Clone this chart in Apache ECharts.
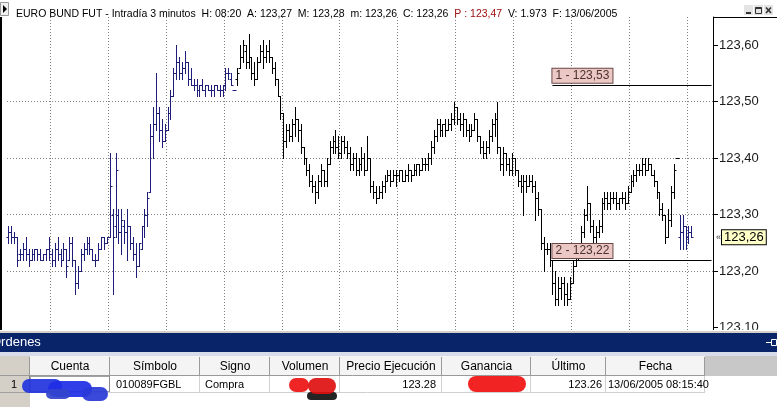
<!DOCTYPE html>
<html><head><meta charset="utf-8">
<script src="https://cdn.jsdelivr.net/npm/echarts@6/dist/echarts.min.js"></script>
<style>html,body{margin:0;padding:0;background:#fff}#c{width:777px;height:407px}</style>
</head><body><div id="c"></div>
<script>
const openP = [123.26,123.27,123.26,123.26,123.23,123.23,123.24,123.23,123.22,123.23,
123.24,123.23,123.22,123.23,123.24,123.23,123.22,123.24,123.23,123.22,
123.24,123.22,123.25,123.22,123.18,123.20,123.23,123.24,123.25,123.24,
123.22,123.22,123.24,123.26,123.25,123.26,123.30,123.28,123.30,123.27,
123.28,123.27,123.28,123.25,123.23,123.21,123.24,123.28,123.30,123.34,
123.44,123.46,123.48,123.45,123.43,123.45,123.48,123.51,123.55,123.57,
123.55,123.56,123.57,123.54,123.53,123.53,123.52,123.53,123.52,123.53,
123.52,123.52,123.53,123.52,123.52,123.53,123.55,123.54,123.52,123.54,
123.56,123.58,123.59,123.57,123.58,123.55,123.54,123.57,123.59,123.58,
123.59,123.58,123.56,123.54,123.51,123.48,123.43,123.45,123.44,123.46,
123.47,123.45,123.42,123.40,123.38,123.36,123.35,123.34,123.36,123.38,
123.36,123.39,123.42,123.43,123.42,123.41,123.43,123.42,123.41,123.39,
123.40,123.38,123.39,123.40,123.38,123.40,123.35,123.34,123.33,123.34,
123.35,123.36,123.37,123.36,123.37,123.37,123.38,123.36,123.37,123.38,
123.37,123.38,123.39,123.38,123.39,123.39,123.40,123.42,123.44,123.46,
123.45,123.46,123.45,123.46,123.47,123.49,123.47,123.46,123.47,123.45,
123.44,123.45,123.47,123.44,123.42,123.41,123.42,123.44,123.46,123.47,
123.42,123.39,123.41,123.39,123.38,123.40,123.38,123.36,123.35,123.36,
123.35,123.36,123.35,123.33,123.31,123.25,123.24,123.24,123.22,123.18,
123.15,123.17,123.18,123.16,123.15,123.18,123.21,123.24,123.23,123.27,
123.30,123.32,123.28,123.26,123.27,123.28,123.32,123.33,123.32,123.33,
123.33,123.32,123.33,123.33,123.32,123.34,123.36,123.37,123.38,123.38,
123.39,123.38,123.39,123.37,123.36,123.34,123.31,123.30,123.26,123.29,
123.34,123.40,123.26,123.27,123.28,123.26,123.27];
const highP = [123.28,123.28,123.27,123.26,123.24,123.25,123.26,123.24,123.24,123.24,
123.24,123.24,123.23,123.24,123.26,123.24,123.25,123.26,123.24,123.25,
123.24,123.26,123.26,123.22,123.21,123.24,123.25,123.26,123.26,123.24,
123.23,123.25,123.26,123.26,123.26,123.41,123.31,123.41,123.31,123.31,
123.29,123.31,123.28,123.26,123.25,123.25,123.28,123.31,123.34,123.46,
123.49,123.55,123.49,123.47,123.46,123.49,123.52,123.56,123.60,123.58,
123.57,123.59,123.57,123.56,123.54,123.54,123.53,123.54,123.53,123.53,
123.53,123.53,123.53,123.53,123.53,123.56,123.56,123.55,123.52,123.56,
123.60,123.61,123.60,123.62,123.58,123.57,123.58,123.60,123.61,123.60,
123.61,123.58,123.57,123.54,123.51,123.48,123.46,123.46,123.47,123.49,
123.47,123.46,123.42,123.40,123.39,123.37,123.36,123.37,123.39,123.38,
123.40,123.43,123.44,123.45,123.44,123.44,123.44,123.43,123.42,123.41,
123.41,123.40,123.42,123.41,123.44,123.40,123.36,123.35,123.35,123.36,
123.37,123.38,123.38,123.38,123.38,123.38,123.38,123.38,123.39,123.38,
123.39,123.39,123.39,123.40,123.40,123.41,123.43,123.45,123.47,123.47,
123.46,123.47,123.47,123.48,123.50,123.49,123.48,123.48,123.47,123.46,
123.46,123.48,123.47,123.44,123.43,123.43,123.45,123.47,123.48,123.50,
123.42,123.42,123.41,123.40,123.41,123.40,123.38,123.37,123.37,123.37,
123.37,123.37,123.36,123.34,123.31,123.26,123.25,123.25,123.22,123.20,
123.19,123.19,123.19,123.18,123.19,123.22,123.25,123.25,123.28,123.31,
123.35,123.32,123.29,123.28,123.29,123.33,123.34,123.34,123.34,123.34,
123.34,123.33,123.34,123.34,123.35,123.37,123.38,123.39,123.39,123.40,
123.40,123.40,123.39,123.38,123.36,123.34,123.32,123.30,123.31,123.35,
123.39,123.40,123.30,123.30,123.28,123.28,123.28];
const lowP = [123.25,123.25,123.25,123.21,123.22,123.22,123.22,123.21,123.22,123.22,
123.22,123.22,123.22,123.22,123.22,123.21,123.21,123.22,123.21,123.22,
123.19,123.22,123.21,123.16,123.17,123.20,123.22,123.23,123.23,123.22,
123.21,123.22,123.24,123.24,123.25,123.26,123.16,123.26,123.25,123.23,
123.25,123.22,123.24,123.22,123.19,123.21,123.24,123.26,123.28,123.34,
123.40,123.45,123.43,123.42,123.43,123.45,123.47,123.51,123.54,123.54,
123.54,123.55,123.53,123.53,123.52,123.51,123.51,123.52,123.51,123.52,
123.51,123.51,123.52,123.51,123.51,123.52,123.54,123.53,123.52,123.53,
123.56,123.57,123.56,123.56,123.54,123.53,123.54,123.57,123.56,123.57,
123.57,123.55,123.53,123.51,123.47,123.40,123.42,123.43,123.43,123.44,
123.43,123.41,123.39,123.37,123.35,123.34,123.32,123.33,123.35,123.35,
123.35,123.39,123.41,123.41,123.40,123.40,123.41,123.40,123.38,123.38,
123.37,123.37,123.38,123.37,123.38,123.34,123.33,123.32,123.33,123.33,
123.34,123.36,123.35,123.36,123.35,123.36,123.36,123.36,123.36,123.36,
123.37,123.37,123.37,123.38,123.38,123.38,123.39,123.41,123.43,123.44,
123.44,123.44,123.45,123.45,123.46,123.46,123.45,123.44,123.44,123.43,
123.44,123.45,123.43,123.41,123.40,123.40,123.41,123.43,123.44,123.41,
123.38,123.37,123.38,123.37,123.37,123.37,123.35,123.34,123.30,123.34,
123.35,123.34,123.29,123.30,123.24,123.20,123.23,123.21,123.16,123.14,
123.14,123.15,123.14,123.14,123.15,123.18,123.21,123.22,123.23,123.26,
123.29,123.27,123.25,123.25,123.26,123.27,123.31,123.31,123.31,123.32,
123.31,123.31,123.32,123.31,123.32,123.34,123.35,123.36,123.37,123.37,
123.37,123.38,123.37,123.35,123.33,123.30,123.29,123.25,123.26,123.28,
123.33,123.40,123.24,123.24,123.24,123.25,123.26];
const closeP = [123.27,123.26,123.26,123.22,123.23,123.24,123.23,123.22,123.23,123.24,
123.23,123.22,123.23,123.24,123.23,123.22,123.24,123.23,123.22,123.24,
123.21,123.25,123.22,123.18,123.20,123.23,123.24,123.25,123.24,123.22,
123.22,123.24,123.26,123.25,123.26,123.35,123.26,123.38,123.27,123.29,
123.27,123.28,123.25,123.23,123.21,123.25,123.28,123.30,123.33,123.44,
123.46,123.48,123.45,123.43,123.45,123.48,123.51,123.55,123.57,123.55,
123.56,123.57,123.54,123.53,123.53,123.52,123.53,123.52,123.53,123.52,
123.52,123.53,123.52,123.52,123.53,123.55,123.55,123.53,123.52,123.55,
123.58,123.60,123.57,123.58,123.55,123.54,123.57,123.59,123.58,123.59,
123.58,123.56,123.54,123.51,123.48,123.43,123.45,123.44,123.46,123.47,
123.45,123.42,123.40,123.38,123.36,123.35,123.34,123.36,123.38,123.36,
123.39,123.42,123.43,123.42,123.41,123.43,123.42,123.41,123.39,123.40,
123.38,123.39,123.40,123.38,123.40,123.35,123.34,123.33,123.34,123.35,
123.36,123.37,123.36,123.37,123.37,123.38,123.36,123.37,123.38,123.37,
123.38,123.39,123.38,123.39,123.39,123.40,123.42,123.44,123.46,123.45,
123.46,123.45,123.46,123.47,123.49,123.47,123.46,123.47,123.45,123.44,
123.45,123.47,123.44,123.42,123.41,123.42,123.44,123.46,123.47,123.42,
123.39,123.41,123.39,123.38,123.40,123.38,123.36,123.35,123.36,123.35,
123.36,123.35,123.33,123.31,123.25,123.24,123.24,123.22,123.18,123.15,
123.17,123.18,123.16,123.15,123.18,123.21,123.24,123.23,123.27,123.30,
123.32,123.28,123.26,123.27,123.28,123.32,123.33,123.32,123.33,123.33,
123.32,123.33,123.33,123.32,123.34,123.36,123.37,123.38,123.38,123.39,
123.38,123.39,123.37,123.36,123.34,123.31,123.30,123.26,123.29,123.34,
123.38,123.40,123.27,123.28,123.26,123.27,123.26];

const yTicks = [123.1, 123.2, 123.3, 123.4, 123.5, 123.6];
const orderLevels = [123.53, 123.22];
const orderLabels = ['1 - 123,53', '2 - 123,22'];
const lastPrice = 123.26;
const titleText = 'EURO BUND FUT - Intradía 3 minutos  H: 08:20  A: 123,27  M: 123,28  m: 123,26  C: 123,26  ';
const titleRed = 'P : 123,47';
const titleTail = '  V: 1.973  F: 13/06/2005';
const tableHeaders = ['', 'Cuenta', 'Símbolo', 'Signo', 'Volumen', 'Precio Ejecución', 'Ganancia', 'Último', 'Fecha'];
const tableRow = ['1', '', '010089FGBL', 'Compra', '', '123.28', '', '123.26', '13/06/2005 08:15:40'];

const NCAT = 244;
const categories = Array.from({length: NCAT}, (_, i) => String(i));
const data = openP.map((o, b) => [b, o, highP[b], lowP[b], closeP[b]]);

const SANS = "'Liberation Sans', Arial, sans-serif";
const NARROW = "'Liberation Sans Narrow', 'Arial Narrow', 'Liberation Sans', sans-serif";

function renderItem(params, api) {
  const b = api.value(0);
  const pO = api.coord([b, api.value(1)]);
  const pH = api.coord([b, api.value(2)]);
  const pL = api.coord([b, api.value(3)]);
  const pC = api.coord([b, api.value(4)]);
  const x = Math.round(pH[0]) + 0.5;
  const col = (b <= 78 || b >= 232) ? '#1e1e78' : '#000000';
  const yo = Math.round(pO[1]) + 0.5, yc = Math.round(pC[1]) + 0.5;
  const yh = Math.round(pH[1]), yl = Math.round(pL[1]) + 1;
  const st = {stroke: col, lineWidth: 1};
  return {type: 'group', children: [
    {type: 'line', shape: {x1: x, y1: yh, x2: x, y2: yl}, style: st},
    {type: 'line', shape: {x1: x - 2, y1: yo, x2: x, y2: yo}, style: st},
    {type: 'line', shape: {x1: x, y1: yc, x2: x + 2, y2: yc}, style: st}
  ]};
}

// table graphics
const colEdges = [0, 30, 110, 200, 270, 340, 442, 531, 606, 705];
const g = [];
g.push({type:'rect', shape:{x:0,y:330,width:777,height:77}, style:{fill:'#ffffff'}, z:10});
g.push({type:'rect', shape:{x:0,y:331,width:777,height:2}, style:{fill:'#d4d0c8'}, z:10});
g.push({type:'rect', shape:{x:0,y:333,width:777,height:19}, style:{fill:'#0a246a'}, z:11});
g.push({type:'text', x:-9, y:342, style:{text:'Órdenes', fill:'#ffffff', font:'13px '+SANS, textVerticalAlign:'middle'}, z:12});
g.push({type:'line', shape:{x1:766,y1:342.5,x2:771,y2:342.5}, style:{stroke:'#fff',lineWidth:1}, z:12});
g.push({type:'rect', shape:{x:771.5,y:339.5,width:5,height:6}, style:{fill:'none',stroke:'#fff',lineWidth:1}, z:12});
g.push({type:'rect', shape:{x:0,y:352,width:777,height:4}, style:{fill:'#d8dcea'}, z:11});
// header
g.push({type:'rect', shape:{x:705,y:356,width:72,height:20}, style:{fill:'#c8c8c8'}, z:11});
g.push({type:'rect', shape:{x:0,y:356,width:30,height:20}, style:{fill:'#d4d0c8'}, z:11});
for (let k = 1; k < colEdges.length; k++) {
  const x0 = colEdges[k-1], x1 = colEdges[k];
  if (k > 1) g.push({type:'rect', shape:{x:x0,y:356,width:x1-x0,height:20}, style:{fill:'#f4f4f4'}, z:11});
  g.push({type:'line', shape:{x1:x1-0.5,y1:357,x2:x1-0.5,y2:376}, style:{stroke:'#9a9a9a',lineWidth:1}, z:12});
  g.push({type:'text', x:(x0+x1)/2, y:366.5, style:{text:tableHeaders[k-1], fill:'#000', font:'12px '+NARROW, textAlign:'center', textVerticalAlign:'middle'}, z:12});
}
g.push({type:'line', shape:{x1:0,y1:375.5,x2:705,y2:375.5}, style:{stroke:'#9a9a9a',lineWidth:1}, z:12});
// row
g.push({type:'rect', shape:{x:0,y:376,width:30,height:31}, style:{fill:'#d4d0c8'}, z:11});
g.push({type:'line', shape:{x1:0,y1:392.5,x2:30,y2:392.5}, style:{stroke:'#a0a0a0',lineWidth:1}, z:12});
g.push({type:'line', shape:{x1:29.5,y1:376,x2:29.5,y2:392}, style:{stroke:'#808080',lineWidth:1}, z:12});
for (let k = 2; k < colEdges.length; k++) {
  g.push({type:'line', shape:{x1:colEdges[k]-0.5,y1:376,x2:colEdges[k]-0.5,y2:392}, style:{stroke:'#d0d0d0',lineWidth:1}, z:12});
}
g.push({type:'line', shape:{x1:30,y1:392.5,x2:705,y2:392.5}, style:{stroke:'#d0d0d0',lineWidth:1}, z:12});
g.push({type:'rect', shape:{x:30.5,y:376.5,width:79,height:15}, style:{fill:'none',stroke:'#444',lineWidth:1,lineDash:[1,1]}, z:12});
const rowAlign = ['left','left','left','left','left','right','left','right','left'];
const rowX = [11, 34, 116, 205, 274, 436, 446, 602, 608];
tableRow.forEach((t, k) => {
  if (!t) return;
  g.push({type:'text', x:rowX[k], y:384.5, style:{text:t, fill:'#000', font:'11px '+NARROW, textAlign:rowAlign[k], textVerticalAlign:'middle'}, z:13});
});
// redaction scribbles
const blob = (cx, cy, rx, ry, col) => ({type:'rect', shape:{x:cx-rx,y:cy-ry,width:2*rx,height:2*ry,r:ry}, style:{fill:col, opacity:0.92}, z:14});
g.push(blob(42,386,20,7,'#2233dd'), blob(70,389,22,8,'#1e2ee6'), blob(95,394,13,7,'#2a3ad8'), blob(58,394,12,5,'#3344cc'));
g.push(blob(322,396,15,4,'#111111'), blob(299,385,10,7,'#ee1111'), blob(322,386,14,8,'#e01010'));
g.push(blob(497,384,29,8,'#f01010'));
// left border, title icon, window buttons, axis-panel corner
g.push({type:'rect', shape:{x:0,y:17,width:2,height:314}, style:{fill:'#000'}, z:9});
g.push({type:'line', shape:{x1:713,y1:17.5,x2:777,y2:17.5}, style:{stroke:'#000',lineWidth:1}, z:9});
g.push({type:'rect', shape:{x:0.5,y:2.5,width:8,height:13}, style:{fill:'#f0f0f0',stroke:'#999',lineWidth:1}, z:9});
g.push({type:'polygon', shape:{points:[[3,5],[7,9],[3,13]]}, style:{fill:'#000'}, z:9});
g.push({type:'rect', shape:{x:744,y:5,width:9,height:10}, style:{fill:'#e4e4e4'}, z:8});
g.push({type:'rect', shape:{x:754,y:5,width:9,height:10}, style:{fill:'#e4e4e4'}, z:8});
g.push({type:'rect', shape:{x:764,y:5,width:9,height:10}, style:{fill:'#e4e4e4'}, z:8});
g.push({type:'rect', shape:{x:746,y:12,width:5,height:2}, style:{fill:'#333'}, z:9});
g.push({type:'rect', shape:{x:755.5,y:7.5,width:6,height:6}, style:{fill:'none',stroke:'#333',lineWidth:1}, z:9});
g.push({type:'rect', shape:{x:755.5,y:7.5,width:6,height:1.5}, style:{fill:'#333'}, z:9});
g.push({type:'line', shape:{x1:766,y1:7.5,x2:771,y2:13}, style:{stroke:'#333',lineWidth:1.6}, z:9});
g.push({type:'line', shape:{x1:771,y1:7.5,x2:766,y2:13}, style:{stroke:'#333',lineWidth:1.6}, z:9});

const orderLineData = orderLevels.map((lv, k) => [
  {coord: ['188', lv], label: {formatter: orderLabels[k]}},
  {coord: ['243', lv]}
]);

const chart = echarts.init(document.getElementById('c'), null, {renderer: 'canvas'});
chart.setOption({
  animation: false,
  backgroundColor: '#ffffff',
  title: {
    text: titleText + '{p|' + titleRed + '}' + titleTail,
    left: 11, top: 4,
    textStyle: {fontSize: 10.5, fontWeight: 'normal', color: '#000', fontFamily: SANS,
      rich: {p: {color: '#a01010', fontSize: 10.5, fontFamily: SANS}}}
  },
  grid: {left: 7, right: 64, top: 17, bottom: 77, show: false},
  xAxis: {
    type: 'category', data: categories, boundaryGap: true,
    axisLine: {show: false}, axisTick: {show: false}, axisLabel: {show: false},
    splitLine: {show: true, interval: (i) => i % 20 === 15, lineStyle: {color: '#808080', type: [1, 2], width: 1}}
  },
  yAxis: {
    type: 'value', position: 'right', min: 123.096, max: 123.65, scale: true,
    axisLine: {show: true, lineStyle: {color: '#000', width: 1}},
    axisTick: {show: true, length: 5, customValues: yTicks, lineStyle: {color: '#000'}},
    axisLabel: {customValues: yTicks, margin: 6, fontSize: 13, fontFamily: SANS, color: '#1a1a1a',
      formatter: (v) => v.toFixed(2).replace('.', ',')},
    splitLine: {show: true, showMinLine: false, showMaxLine: false, lineStyle: {color: '#808080', type: [1, 2], width: 1}}
  },
  series: [
    {type: 'custom', renderItem: renderItem, data: data, encode: {x: 0, y: [1, 2, 3, 4]}, clip: false, z: 3},
    {type: 'line', data: [], silent: true, symbol: 'none', z: 4,
      markLine: {
        silent: true, symbol: 'none', animation: false,
        lineStyle: {color: '#000', type: 'solid', width: 1},
        label: {show: true, position: 'insideStartTop', distance: [0, 2],
          fontSize: 12, fontFamily: SANS, color: '#4a3030',
          backgroundColor: '#ebc8c3', borderColor: '#6a4848', borderWidth: 1, padding: [1, 3, 1, 3]},
        data: orderLineData
      }
    },
    {type: 'line', data: [], silent: true, symbol: 'none', z: 5,
      markLine: {
        silent: true, symbol: 'none', animation: false,
        lineStyle: {color: 'rgba(0,0,0,0)', width: 0},
        label: {show: true, position: 'end', distance: 3,
          formatter: '{a|«}{b|123,26}',
          rich: {a: {fontSize: 9, color: '#333', padding: [0, 1, 0, 0]},
                 b: {fontSize: 13, fontFamily: SANS, color: '#000', backgroundColor: '#ffffc8', borderColor: '#000', borderWidth: 1, padding: [1, 2, 0, 2]}}},
        data: [{yAxis: lastPrice}]
      }
    }
  ],
  graphic: g
});
</script></body></html>
